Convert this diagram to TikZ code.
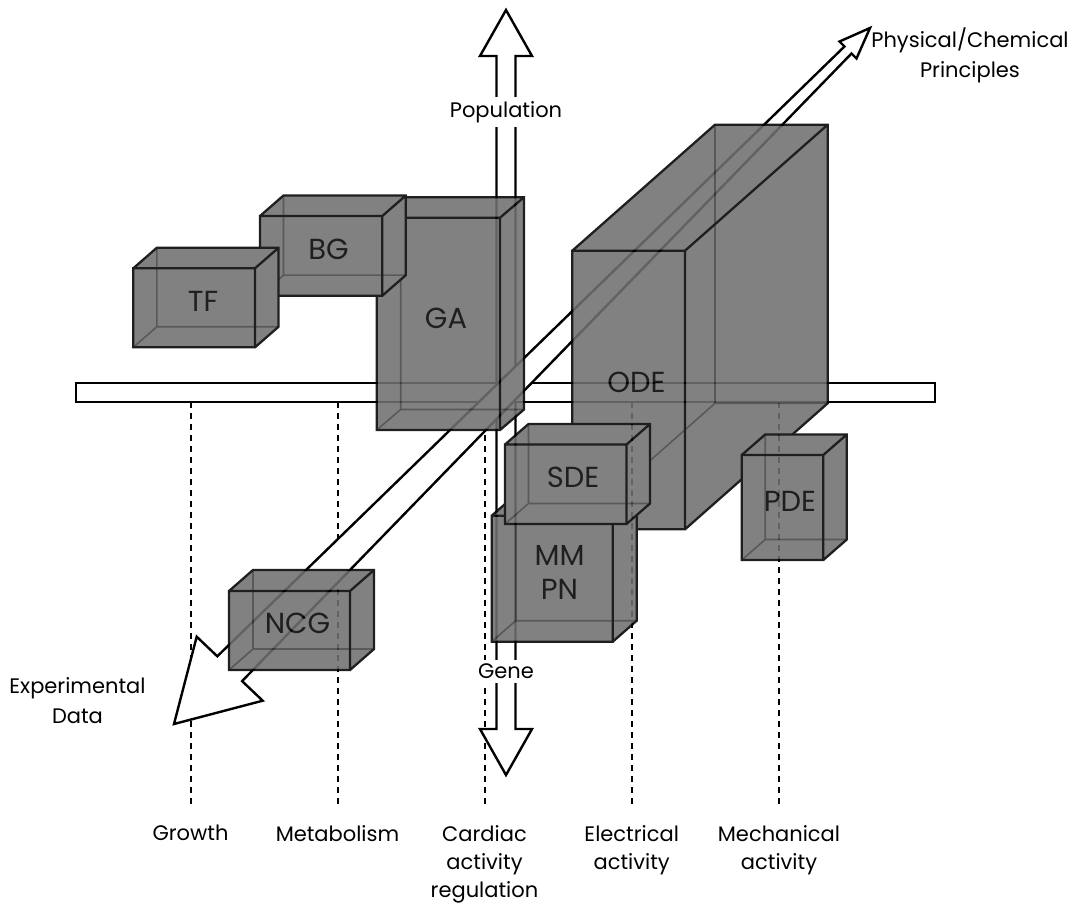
\documentclass[tikz,border=0pt]{standalone}
\usepackage{fontspec}
\setmainfont{Poppins}
\tikzset{
  boxfill/.style={fill=black!56},
  hiddenedge/.style={draw=black!74, line width=1.6pt},
  boxedge/.style={draw=black, line width=2.3pt, line join=miter},
  whiteshape/.style={draw=black, fill=white, line width=2.4pt, line join=miter},
  guide/.style={draw=black, line width=2pt, dash pattern=on 6pt off 5pt},
  lab/.style={font=\fontsize{21}{28}\selectfont, align=center, inner sep=0pt},
  sidelab/.style={font=\fontsize{21}{30}\selectfont, align=center, inner sep=0pt},
  axislab/.style={font=\fontsize{21}{28}\selectfont, fill=white, inner sep=4pt},
  boxlabel/.style={font=\fontsize{29}{34}\selectfont, align=center, inner sep=0pt},
}
% block: name, front top-left x, y, width, height, depth dx, depth rise dy
\newcommand\solidblock[7]{%
  \coordinate (#1) at (#2+#4/2+#6/2,#3+#5/2-#7/2);
  \fill[boxfill] (#2,#3) -- (#2+#6,#3-#7) -- (#2+#4+#6,#3-#7)
     -- (#2+#4+#6,#3+#5-#7) -- (#2+#4,#3+#5) -- (#2,#3+#5) -- cycle;
  \draw[hiddenedge] (#2+#6,#3+#5-#7) -- (#2+#6,#3-#7)
     (#2+#6,#3+#5-#7) -- (#2+#4+#6,#3+#5-#7)
     (#2+#6,#3+#5-#7) -- (#2,#3+#5);
  \draw[boxedge] (#2,#3) rectangle (#2+#4,#3+#5)
     (#2,#3) -- (#2+#6,#3-#7) -- (#2+#4+#6,#3-#7) -- (#2+#4+#6,#3+#5-#7) -- (#2+#4,#3+#5)
     (#2+#4,#3) -- (#2+#4+#6,#3-#7);
}
\begin{document}
\begin{tikzpicture}[x=1pt,y=-1pt]
\useasboundingbox (0,0) rectangle (1079,909);

% dashed guides from the bar down to the activity labels
\coordinate (g1) at (190.5,402); \coordinate (g1e) at (190.5,807);
\coordinate (g2) at (337.5,402); \coordinate (g2e) at (337.5,807);
\coordinate (g3) at (484.5,402); \coordinate (g3e) at (484.5,807);
\coordinate (g4) at (631.7,402); \coordinate (g4e) at (631.7,807);
\coordinate (g5) at (779,402);   \coordinate (g5e) at (779,807);
\foreach \i in {1,...,5} \draw[guide] (g\i) -- (g\i e);

% vertical axis: Population up, Gene down
\draw[whiteshape] (506,10) -- (532,56) -- (515.5,56) -- (515.5,729) -- (532,729)
  -- (506,775) -- (480,729) -- (496.5,729) -- (496.5,56) -- (480,56) -- cycle;

% horizontal bar
\draw[whiteshape] (76,383) rectangle (935,402);

% receding axis drawn in perspective
\draw[whiteshape] (174,724) -- (262.7,700.7) -- (242.1,681.1) -- (851.5,53.5)
  -- (856.5,58.5) -- (870,28) -- (839.5,41.5) -- (844.5,46.5) -- (217.3,656.3)
  -- (196.7,636.7) -- cycle;

\node[axislab] (pop) at (506,112) {Population};
\node[axislab] (gene) at (506,671) {Gene};
\node[sidelab] (phys) at (970,55) {Physical/Chemical\\Principles};
\node[sidelab] (exp) at (77.5,701) {Experimental\\Data};

\node[lab, anchor=north] (growth) at (190.5,825) {Growth};
\node[lab, anchor=north] (metab) at (337.5,825) {Metabolism};
\node[lab, anchor=north] (cardiac) at (484.5,825) {Cardiac\\activity\\regulation};
\node[lab, anchor=north] (elec) at (631.7,825) {Electrical\\activity};
\node[lab, anchor=north] (mech) at (779,825) {Mechanical\\activity};

% translucent model blocks, back to front
\begin{scope}[transparency group, opacity=0.88]
  \solidblock{ode}{572.3}{250.7}{112.7}{278.6}{142.7}{126}
  \node[boxlabel] (odel) at (636.5,382.5) {ODE};
  \solidblock{ga}{376.7}{217.7}{123.3}{212.3}{24}{20.5}
  \node[boxlabel] (gal) at (446,318) {GA};
  \solidblock{bg}{260}{216}{122.3}{79.7}{23.5}{20.5}
  \node[boxlabel] (bgl) at (328.5,249) {BG};
  \solidblock{tf}{133.3}{268.3}{121.7}{79}{23.5}{20.5}
  \node[boxlabel] (tfl) at (203,301) {TF};
  \solidblock{mm}{491.7}{515.7}{121}{126}{24}{21}
  \node[boxlabel] (mml) at (559.5,572) {MM\\PN};
  \solidblock{sde}{505}{444.5}{121.5}{79.5}{23.5}{20.5}
  \node[boxlabel] (sdel) at (573,477.5) {SDE};
  \solidblock{pde}{741.7}{455}{81.6}{105}{23.5}{20.5}
  \node[boxlabel] (pdel) at (790,501) {PDE};
  \solidblock{ncg}{229}{591}{121}{79}{24}{21}
  \node[boxlabel] (ncgl) at (297.5,623) {NCG};
\end{scope}
\end{tikzpicture}
\end{document}
